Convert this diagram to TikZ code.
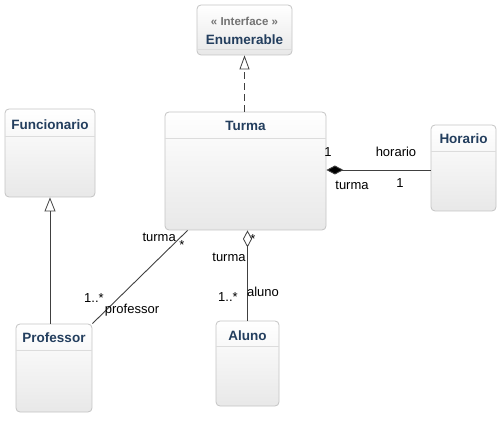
\documentclass[tikz,border=0pt]{standalone}
\usepackage{fontspec}
\setmainfont{Liberation Sans}
\usetikzlibrary{arrows.meta,calc}
\definecolor{titleblue}{HTML}{233E5E}
\definecolor{boxborder}{HTML}{C4C4C4}
\definecolor{sepline}{HTML}{DCDCDC}
\begin{document}
\begin{tikzpicture}[x=1pt,y=-1pt,
  umlbox/.style={draw=boxborder, line width=0.8pt, rounded corners=4pt, top color=white, bottom color=black!9, inner sep=0pt},
  umltitle/.style={font=\fontsize{13.5}{15}\selectfont\bfseries, text=titleblue, inner sep=0pt},
  lbl/.style={font=\fontsize{13}{15}\selectfont, inner sep=0pt},
  conn/.style={draw=black!75, line width=0.9pt},
  sep/.style={draw=sepline, line width=0.8pt}
]
\useasboundingbox (0,0) rectangle (501,422);
% boxes
\node[umlbox, minimum width=95pt, minimum height=50pt] (enum) at (244.5,30) {};
\node[umlbox, minimum width=161pt, minimum height=118pt] (turma) at (245.5,171) {};
\node[umlbox, minimum width=65pt, minimum height=86pt] (horario) at (463.5,168) {};
\node[umlbox, minimum width=90pt, minimum height=88pt] (func) at (50,153) {};
\node[umlbox, minimum width=76pt, minimum height=88pt] (prof) at (54,368) {};
\node[umlbox, minimum width=63pt, minimum height=85pt] (aluno) at (247.5,363.5) {};
% separators
\draw[sep] (enum.west |- 0,49) -- (enum.east |- 0,49);
\draw[sep] (turma.west |- 0,138) -- (turma.east |- 0,138);
\draw[sep] (horario.west |- 0,151) -- (horario.east |- 0,151);
\draw[sep] (func.west |- 0,136) -- (func.east |- 0,136);
\draw[sep] (prof.west |- 0,350) -- (prof.east |- 0,350);
\draw[sep] (aluno.west |- 0,346) -- (aluno.east |- 0,346);
% titles
\node[umltitle, text=black!55] (enumst) at (244.5,21) {\fontsize{11.5}{13}\selectfont « Interface »};
\node[umltitle] (enumt) at (244.5,40) {Enumerable};
\node[umltitle] (turmat) at (245.5,126) {Turma};
\node[umltitle] (horariot) at (463.5,139) {Horario};
\node[umltitle] (funct) at (50,125) {Funcionario};
\node[umltitle] (proft) at (54,338) {Professor};
\node[umltitle] (alunot) at (247.5,336) {Aluno};
% connectors
\draw[conn, dashed, dash pattern=on 7pt off 4pt, -{Triangle[open, length=14pt, width=10pt, line width=0.8pt]}] (turma.north -| enum.south) -- (enum.south);
\draw[conn, -{Triangle[open, length=14pt, width=11pt, line width=0.8pt]}] (prof.north -| func.south) -- (func.south);
\draw[conn, -{Diamond[fill=black, length=17pt, width=9pt]}] (horario.west |- 0,170) -- (turma.east |- 0,170);
\draw[conn, -{Diamond[open, fill=white, length=17pt, width=9pt, line width=0.8pt]}] (aluno.north) -- (turma.south -| aluno.north);
\draw[conn] (prof.north east) -- ($(turma.south west)+(23,0)$);
% labels
\node[lbl] (l1) at (328,152) {1};
\node[lbl] (lhor) at (396,152) {horario};
\node[lbl] (lturma1) at (352,185) {turma};
\node[lbl] (l2) at (400,183) {1};
\node[lbl, anchor=east] (lturma2) at (176,237) {turma};
\node[lbl] (ls1) at (182,245) {*};
\node[lbl] (lm1) at (94,298) {1..*};
\node[lbl] (lprof) at (132,310) {professor};
\node[lbl] (ls2) at (253,239) {*};
\node[lbl] (lturma3) at (229,257) {turma};
\node[lbl] (lm2) at (228,297) {1..*};
\node[lbl] (lal) at (263,292) {aluno};
\end{tikzpicture}
\end{document}
